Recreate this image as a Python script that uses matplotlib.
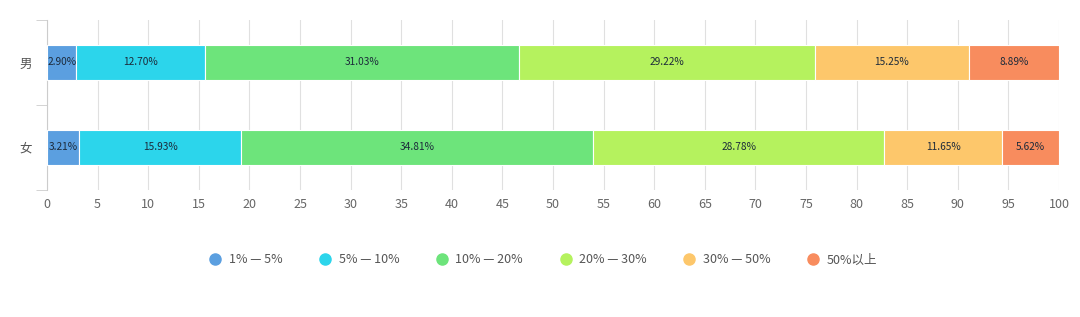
import numpy as np
import matplotlib.pyplot as plt
from matplotlib.lines import Line2D

plt.rcParams['font.family'] = ['Noto Sans CJK SC', 'DejaVu Sans']

groups = ['男', '女']
ranges = ['1% — 5%', '5% — 10%', '10% — 20%', '20% — 30%', '30% — 50%', '50%以上']
male = [2.90, 12.70, 31.03, 29.22, 15.25, 8.89]
female = [3.21, 15.93, 34.81, 28.78, 11.65, 5.62]
colors = ['#5b9fe0', '#2cd5eb', '#6de47b', '#b5f25e', '#fdc76b', '#f88c5e']

data = np.array([male, female])

fig = plt.figure(figsize=(10.8, 3.17), dpi=100)
ax = fig.add_axes([0.0435, 0.401, 0.9371, 0.536])

y = np.arange(len(groups))
left = np.zeros(len(groups))
for i in range(len(ranges)):
    vals = data[:, i]
    ax.barh(y, vals, left=left, height=0.41, color=colors[i],
            edgecolor='white', linewidth=0.8, zorder=3)
    for j in range(len(groups)):
        ax.text(left[j] + vals[j] / 2, y[j], '%.2f%%' % vals[j],
                ha='center', va='center', fontsize=7.3, color='#1c2a3a', zorder=4)
    left += vals

ax.set_xlim(0, 100)
ax.set_ylim(1.5, -0.5)
ax.set_xticks(np.arange(0, 101, 5))
ax.set_yticks(y)
ax.set_yticklabels(groups)
ax.set_yticks([-0.5, 0.5, 1.5], minor=True)
ax.tick_params(axis='y', which='major', length=0, labelsize=9, colors='#555555', pad=11)
ax.tick_params(axis='y', which='minor', length=8, color='#cccccc')
ax.tick_params(axis='x', length=0, labelsize=9, colors='#666666', pad=6)
ax.grid(axis='x', color='#e0e0e0', linewidth=0.8, zorder=0)
for s in ['top', 'right', 'bottom']:
    ax.spines[s].set_visible(False)
ax.spines['left'].set_color('#cccccc')

handles = [Line2D([], [], marker='o', linestyle='none', markersize=8,
                  markerfacecolor=c, markeredgecolor=c) for c in colors]
fig.legend(handles, ranges, loc='center', bbox_to_anchor=(0.5, 0.18), ncol=6,
           frameon=False, fontsize=9, handletextpad=0.1, columnspacing=2.4,
           labelcolor='#555555')

fig.savefig('out.png', dpi=100)
